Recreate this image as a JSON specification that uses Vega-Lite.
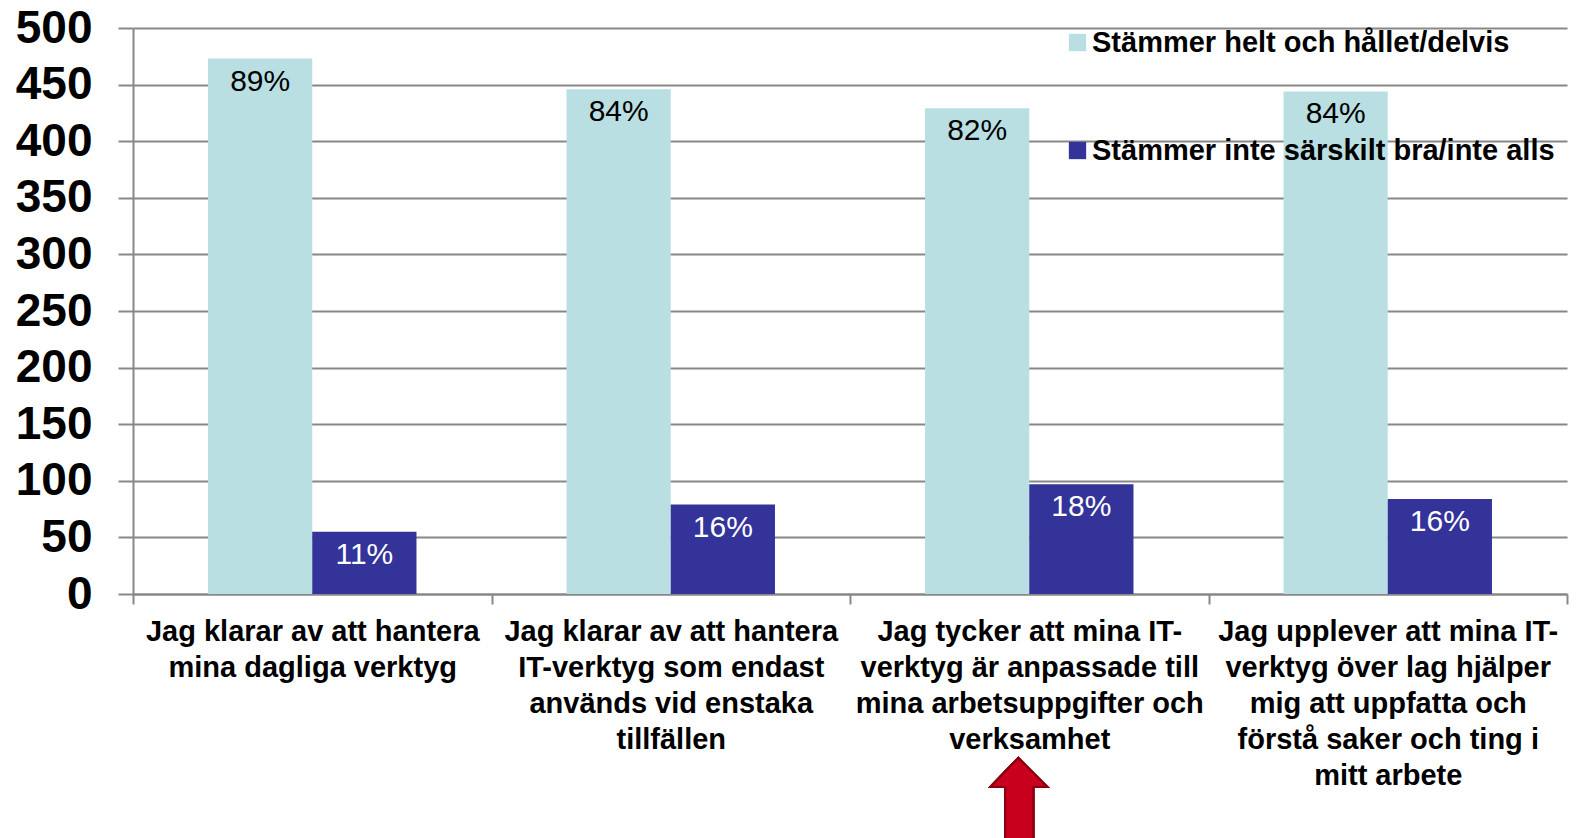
{
  "$schema": "https://vega.github.io/schema/vega-lite/v6.json",
  "autosize": {"type": "none"},
  "width": 1434,
  "height": 566,
  "padding": {"left": 133, "top": 28, "right": 14, "bottom": 244},
  "background": "white",
  "config": {
    "view": {"stroke": null},
    "font": "Liberation Sans"
  },
  "data": {
    "values": [
      {"q": "Jag klarar av att hantera|mina dagliga verktyg", "series": "Stämmer helt och hållet/delvis", "value": 473, "label": "89%"},
      {"q": "Jag klarar av att hantera|mina dagliga verktyg", "series": "Stämmer inte särskilt bra/inte alls", "value": 55, "label": "11%"},
      {"q": "Jag klarar av att hantera|IT-verktyg som endast|används vid enstaka|tillfällen", "series": "Stämmer helt och hållet/delvis", "value": 446, "label": "84%"},
      {"q": "Jag klarar av att hantera|IT-verktyg som endast|används vid enstaka|tillfällen", "series": "Stämmer inte särskilt bra/inte alls", "value": 79, "label": "16%"},
      {"q": "Jag tycker att mina IT-|verktyg är  anpassade till|mina arbetsuppgifter och|verksamhet", "series": "Stämmer helt och hållet/delvis", "value": 429, "label": "82%"},
      {"q": "Jag tycker att mina IT-|verktyg är  anpassade till|mina arbetsuppgifter och|verksamhet", "series": "Stämmer inte särskilt bra/inte alls", "value": 97, "label": "18%"},
      {"q": "Jag upplever att mina IT-|verktyg över lag hjälper|mig att uppfatta och|förstå saker och ting i|mitt arbete", "series": "Stämmer helt och hållet/delvis", "value": 444, "label": "84%"},
      {"q": "Jag upplever att mina IT-|verktyg över lag hjälper|mig att uppfatta och|förstå saker och ting i|mitt arbete", "series": "Stämmer inte särskilt bra/inte alls", "value": 84, "label": "16%"}
    ]
  },
  "encoding": {
    "x": {
      "field": "q", "type": "nominal", "sort": null,
      "scale": {"paddingInner": 0, "paddingOuter": 0},
      "axis": {
        "title": null, "labelAngle": 0, "labelExpr": "split(datum.label, '|')",
        "labelFontSize": 29, "labelFontWeight": "bold", "labelColor": "black",
        "labelLineHeight": 36, "labelPadding": 13, "labelLimit": 500,
        "tickBand": "extent", "ticks": true, "tickSize": 10, "tickColor": "#888888", "tickWidth": 2,
        "domainColor": "#888888", "domainWidth": 2, "grid": false
      }
    },
    "y": {
      "field": "value", "type": "quantitative",
      "scale": {"domain": [0, 500], "nice": false, "clamp": false},
      "axis": {
        "title": null, "values": [0, 50, 100, 150, 200, 250, 300, 350, 400, 450, 500],
        "labelFontSize": 46, "labelFontWeight": "bold", "labelColor": "black", "labelPadding": 26,
        "grid": true, "gridColor": "#888888", "gridWidth": 2,
        "tickSize": 15, "tickColor": "#888888", "tickWidth": 2,
        "domainColor": "#888888", "domainWidth": 2
      }
    }
  },
  "layer": [
    {
      "mark": {"type": "bar"},
      "encoding": {
        "xOffset": {
          "field": "series", "type": "nominal",
          "sort": ["Stämmer helt och hållet/delvis", "Stämmer inte särskilt bra/inte alls"],
          "scale": {"paddingInner": 0, "paddingOuter": 0.72}
        },
        "color": {
          "field": "series", "type": "nominal",
          "scale": {"domain": ["Stämmer helt och hållet/delvis", "Stämmer inte särskilt bra/inte alls"], "range": ["#B9DFE2", "#333399"]},
          "legend": {
            "title": null, "orient": "none", "legendX": 930, "legendY": 0, "direction": "vertical",
            "symbolType": "square", "symbolSize": 300, "symbolStrokeWidth": 0,
            "labelFontSize": 29, "labelFontWeight": "bold", "labelColor": "black", "labelLimit": 700,
            "labelOffset": 0, "rowPadding": 78
          }
        }
      }
    },
    {
      "mark": {"type": "text", "baseline": "top", "dy": 8, "fontSize": 30, "font": "Liberation Sans"},
      "encoding": {
        "xOffset": {
          "field": "series", "type": "nominal",
          "sort": ["Stämmer helt och hållet/delvis", "Stämmer inte särskilt bra/inte alls"]
        },
        "text": {"field": "label"},
        "color": {
          "condition": {"test": "datum.series === 'Stämmer helt och hållet/delvis'", "value": "black"},
          "value": "white"
        }
      }
    },
    {
      "mark": {
        "type": "point", "filled": true, "size": 400,
        "shape": "M -1.1 -4.2 L 1.8 -1.3 L 0.4 -1.3 L 0.4 4.5 L -2.4 4.5 L -2.4 -1.3 L -3.9 -1.3 Z",
        "color": "#C8001E", "stroke": "#8B0010", "strokeWidth": 2, "opacity": 1
      },
      "encoding": {
        "x": {"datum": "Jag tycker att mina IT-|verktyg är  anpassade till|mina arbetsuppgifter och|verksamhet"},
        "y": {"datum": -182}
      }
    }
  ]
}
